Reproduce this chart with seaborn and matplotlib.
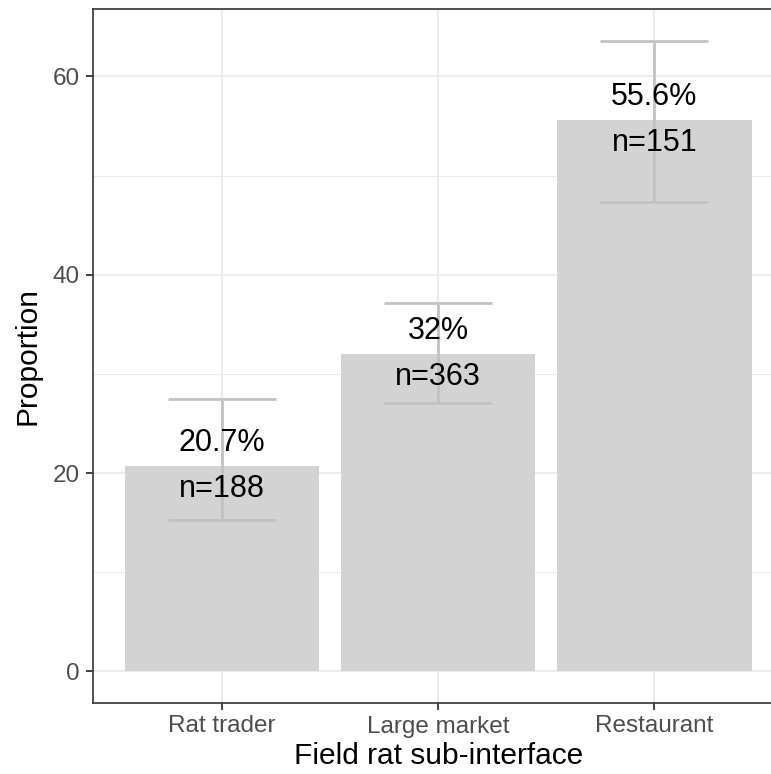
import numpy as np
import pandas as pd
import seaborn as sns
import matplotlib.pyplot as plt
from matplotlib.ticker import MultipleLocator

#---------------------

categories = ['Rat trader', 'Large market', 'Restaurant']
proportion = [20.7, 32.0, 55.6]
ci_low = [15.3, 27.1, 47.3]
ci_high = [27.5, 37.2, 63.6]
n_obs = [188, 363, 151]
pct_labels = ['20.7%', '32%', '55.6%']

#---------------------

df = pd.DataFrame({'interface': categories, 'prop': proportion,
                   'lo': ci_low, 'hi': ci_high, 'n': n_obs, 'pct': pct_labels})

sns.set_theme(style='white')
plt.rcParams['font.family'] = ['Liberation Sans', 'DejaVu Sans']

fig = plt.figure(figsize=(7.71, 7.74), dpi=100)
W, H = 771, 774
# panel runs past the right edge of the picture, as in the reference
ax = fig.add_axes([92.5 / W, (H - 703) / H, 691.5 / W, 694 / H])

sns.barplot(data=df, x='interface', y='prop', color='#d3d3d3', saturation=1,
            width=0.9, errorbar=None, ax=ax, zorder=2)
for p in ax.patches:
    p.set_edgecolor('none')

xs = np.arange(len(df))
ax.vlines(xs, df['lo'], df['hi'], color='#c2c2c2', lw=2, zorder=3)
ax.hlines(df['lo'], xs - 0.25, xs + 0.25, color='#c2c2c2', lw=2, zorder=3)
ax.hlines(df['hi'], xs - 0.25, xs + 0.25, color='#c2c2c2', lw=2, zorder=3)

for i, row in df.iterrows():
    ax.text(i, row['prop'], f"{row['pct']}\nn={row['n']}", ha='center', va='center',
            multialignment='center', fontsize=22, linespacing=1.7, color='black', zorder=4)

ax.set_xlim(-0.6, 2.6)
ax.set_ylim(-3.18, 66.8)
ax.yaxis.set_major_locator(MultipleLocator(20))
ax.yaxis.set_minor_locator(MultipleLocator(10))

ax.grid(True, which='major', color='#ebebeb', lw=1.3, zorder=0)
ax.grid(True, which='minor', axis='y', color='#ebebeb', lw=0.7, zorder=0)
ax.set_axisbelow(True)

for s in ax.spines.values():
    s.set_color('#333333')
    s.set_linewidth(1.2)
ax.spines['right'].set_visible(False)

ax.tick_params(axis='both', which='major', length=5, width=1.3, color='#333333',
               labelsize=17.5, labelcolor='#4d4d4d', pad=4, left=True, bottom=True)
ax.tick_params(axis='both', which='minor', length=0)

ax.set_xlabel('Field rat sub-interface', fontsize=21.5, color='black', labelpad=3)
ax.set_ylabel('Proportion', fontsize=21.5, color='black', labelpad=8)

fig.savefig('out.png', dpi=100)
